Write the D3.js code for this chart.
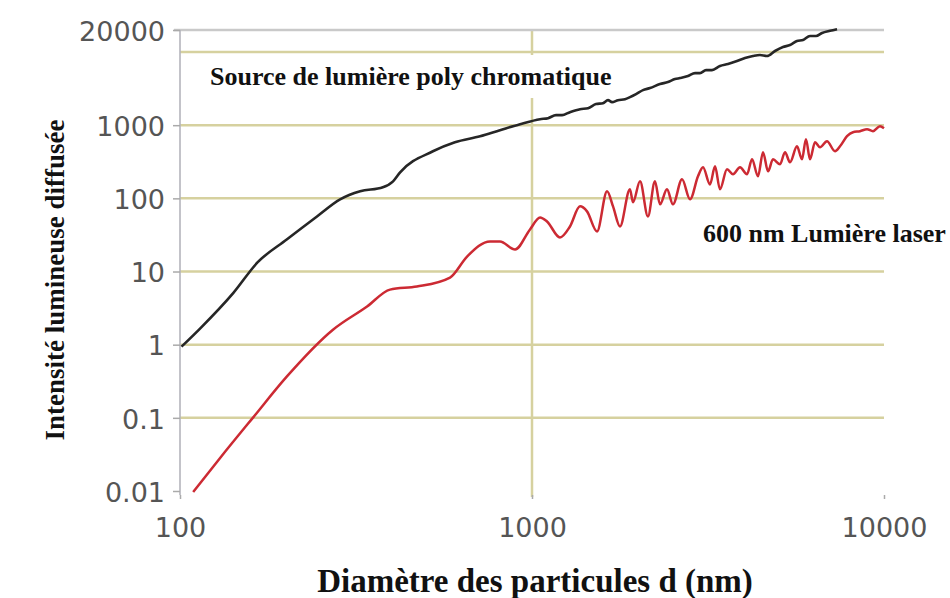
<!DOCTYPE html>
<html>
<head>
<meta charset="utf-8">
<script src="https://cdn.jsdelivr.net/npm/d3@7/dist/d3.min.js"></script>
<style>
  html, body { margin: 0; padding: 0; background: #ffffff; }
  svg { display: block; }
</style>
</head>
<body>
<svg id="chart" width="950" height="598"></svg>
<script>
// ---- Data ----
const xTicks = [100, 1000, 10000];
const xTickLabels = ["100", "1000", "10000"];
const yTicks = [0.01, 0.1, 1, 10, 100, 1000, 20000];
const yTickLabels = ["0.01", "0.1", "1", "10", "100", "1000", "20000"];
const yGrid = [0.1, 1, 10, 100, 1000, 10000];
const xGrid = [1000];

// Polychromatic source (black)
const polyD = [101, 114, 142, 166, 201, 245, 285, 325, 377, 403, 422, 523, 604, 712, 811, 925,
  1054, 1111, 1170, 1217, 1282, 1369, 1443, 1520, 1591, 1644, 1688, 1755, 1837, 1898, 1975, 2067,
  2164, 2310, 2434, 2549, 2633, 2774, 2905, 3001, 3121, 3246, 3420, 3604, 3823, 4028, 4244, 4443,
  4651, 4901, 5165, 5407, 5660, 5888, 6163, 6410, 6667, 7026, 7355];
const polyI = [0.94, 1.66, 5.15, 13.3, 27.4, 56.6, 96.9, 125, 142, 171, 227, 440, 585, 707, 855, 1032,
  1208, 1247, 1371, 1371, 1507, 1656, 1709, 1941, 2000, 2198, 2065, 2198, 2268, 2421, 2661, 3016,
  3213, 3648, 3882, 4266, 4405, 4690, 5152, 5152, 5662, 5662, 6427, 6850, 7530, 8278, 8810, 9097,
  8810, 10330, 11700, 12470, 14150, 14600, 16570, 16570, 18200, 19500, 20500];

// 600 nm laser (red)
const laserD = [109, 130, 161, 201, 272, 340, 395, 471, 585, 654, 760, 811, 895, 987, 1054, 1103, 1201, 1282, 1369, 1433, 1530, 1634, 1699, 1778, 1898, 1936, 2027, 2135, 2235, 2310, 2418, 2515, 2668, 2812, 2962, 3061, 3204, 3311, 3420, 3581, 3724, 3899, 4082, 4217, 4386, 4532, 4683, 4838, 5065, 5233, 5407, 5660, 5848, 6002, 6163, 6368, 6579, 6887, 7259, 7499, 7851, 8164, 8547, 8949, 9306, 9741, 10000];
const laserI = [0.0097, 0.0283, 0.1, 0.365, 1.6, 3.32, 5.66, 6.23, 8.27, 16.0, 25.8, 25.8, 20.0, 37.6, 54.9, 48.4, 29.2, 41.3, 77.7, 66.4, 35.3, 125, 77.7, 41.3, 133, 88.2, 171, 56.6, 171, 82.8, 133, 82.8, 182, 96.9, 200, 266, 155, 274, 133, 250, 213, 266, 213, 342, 200, 427, 234, 342, 292, 427, 311, 515, 342, 643, 342, 585, 500, 604, 440, 515, 707, 802, 828, 881, 828, 969, 910];

const xTitle = "Diamètre des particules d (nm)";
const yTitle = "Intensité lumineuse diffusée";
const polyLabel = "Source de lumière poly chromatique";
const laserLabel = "600 nm Lumière laser";

// ---- Drawing ----
const svg = d3.select("#chart");
const x = d3.scaleLog().domain([100, 10000]).range([180, 884]);
const y = d3.scaleLog().domain([0.01, 20000]).range([491, 30]);

const gridColor = "#d6d19f";

// horizontal gridlines
svg.append("g").selectAll("line").data(yGrid).join("line")
  .attr("x1", x(100)).attr("x2", x(10000))
  .attr("y1", d => y(d)).attr("y2", d => y(d))
  .attr("stroke", gridColor).attr("stroke-width", 2.5);

// vertical gridline
svg.append("g").selectAll("line").data(xGrid).join("line")
  .attr("x1", d => x(d)).attr("x2", d => x(d))
  .attr("y1", y(20000)).attr("y2", 497)
  .attr("stroke", gridColor).attr("stroke-width", 2.5);

// top frame line (20000)
svg.append("line")
  .attr("x1", 174).attr("x2", x(10000))
  .attr("y1", y(20000)).attr("y2", y(20000))
  .attr("stroke", "#c9c9c9").attr("stroke-width", 2.5);

// left axis line
svg.append("line")
  .attr("x1", x(100)).attr("x2", x(100))
  .attr("y1", y(20000)).attr("y2", 495)
  .attr("stroke", "#b4b4bc").attr("stroke-width", 1.6);

// white label boxes
svg.append("rect").attr("x", 200).attr("y", 55).attr("width", 433).attr("height", 43).attr("fill", "#ffffff");
svg.append("rect").attr("x", 692).attr("y", 207).attr("width", 258).attr("height", 46).attr("fill", "#ffffff");

// Y axis
const yAxis = d3.axisLeft(y).tickValues(yTicks)
  .tickFormat((d, i) => yTickLabels[i]).tickSize(7).tickPadding(8);
const gy = svg.append("g").attr("transform", `translate(${x(100)},0)`).call(yAxis);
gy.select(".domain").remove();
gy.selectAll(".tick line").attr("stroke", "#aaaaaa").attr("stroke-width", 1.5);
gy.selectAll(".tick text")
  .attr("font-family", "DejaVu Sans, sans-serif").attr("font-size", 27)
  .attr("fill", "#555555").attr("dy", "0.38em");

// X axis
const xAxis = d3.axisBottom(x).tickValues(xTicks)
  .tickFormat((d, i) => xTickLabels[i]).tickSize(4).tickPadding(19);
const gx = svg.append("g").attr("transform", `translate(0,495)`).call(xAxis);
gx.select(".domain").remove();
gx.selectAll(".tick line").attr("stroke", "#aaaaaa").attr("stroke-width", 1.5);
gx.selectAll(".tick text")
  .attr("font-family", "DejaVu Sans, sans-serif").attr("font-size", 27)
  .attr("fill", "#555555");

// series lines
svg.append("path")
  .datum(polyD.map((d, i) => [d, polyI[i]]))
  .attr("d", d3.line().x(d => x(d[0])).y(d => y(d[1])).curve(d3.curveMonotoneX))
  .attr("fill", "none").attr("stroke", "#262626").attr("stroke-width", 2.6)
  .attr("stroke-linejoin", "round");

svg.append("path")
  .datum(laserD.map((d, i) => [d, laserI[i]]))
  .attr("d", d3.line().x(d => x(d[0])).y(d => y(d[1])).curve(d3.curveMonotoneX))
  .attr("fill", "none").attr("stroke", "#cc2a33").attr("stroke-width", 2.5)
  .attr("stroke-linejoin", "round");

// annotations
svg.append("text").attr("x", 210).attr("y", 85)
  .attr("font-family", "Liberation Serif, Times New Roman, serif")
  .attr("font-weight", "bold").attr("font-size", 26).attr("fill", "#111")
  .text(polyLabel);
svg.append("text").attr("x", 703).attr("y", 242)
  .attr("font-family", "Liberation Serif, Times New Roman, serif")
  .attr("font-weight", "bold").attr("font-size", 26).attr("fill", "#111")
  .text(laserLabel);

// axis titles
svg.append("text").attr("x", 535).attr("y", 592)
  .attr("text-anchor", "middle")
  .attr("font-family", "Liberation Serif, Times New Roman, serif")
  .attr("font-weight", "bold").attr("font-size", 33).attr("fill", "#111")
  .text(xTitle);
svg.append("text")
  .attr("transform", "translate(64,280) rotate(-90)")
  .attr("text-anchor", "middle")
  .attr("font-family", "Liberation Serif, Times New Roman, serif")
  .attr("font-weight", "bold").attr("font-size", 27).attr("fill", "#111")
  .text(yTitle);
</script>
</body>
</html>
